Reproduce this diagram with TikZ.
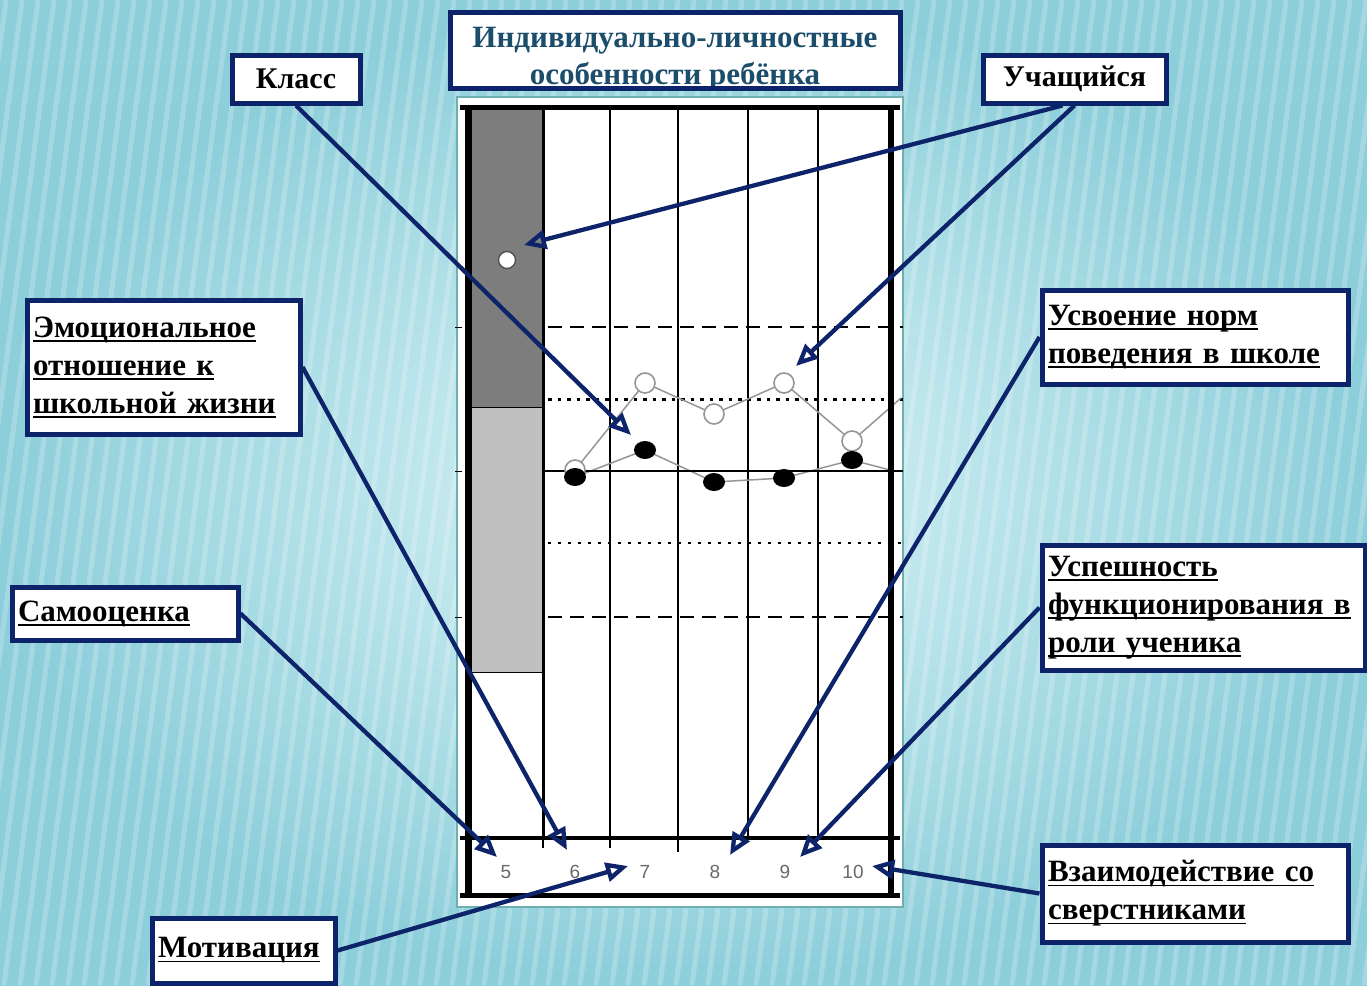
\documentclass[tikz,border=0pt]{standalone}
\usepackage{fontspec}
\setmainfont{Liberation Serif}
\newfontfamily\numfont{Liberation Sans}
\usetikzlibrary{arrows.meta}
\definecolor{navy}{RGB}{14,36,106}
\definecolor{titletext}{RGB}{28,78,108}
\definecolor{bgin}{RGB}{222,245,248}
\definecolor{bgout}{RGB}{140,206,218}
\definecolor{frameteal}{RGB}{110,175,175}
\definecolor{darkbar}{RGB}{125,125,125}
\definecolor{lightbar}{RGB}{192,192,192}
\definecolor{serie}{RGB}{150,150,150}
\definecolor{numgray}{RGB}{105,105,105}
\newcommand{\lblfont}{\fontsize{31}{38}\selectfont\bfseries}
\newsavebox\ulbox
\newcommand{\ul}[1]{\leavevmode\sbox\ulbox{#1}\rlap{\rule[-4.5pt]{\wd\ulbox}{1.8pt}}\usebox\ulbox}
\begin{document}
\begin{tikzpicture}[x=1pt,y=-1pt,
  lbox/.style={draw=navy, line width=5pt, fill=white, inner xsep=6pt, inner ysep=0pt,
    align=left, font=\lblfont, text=black},
  tbox/.style={draw=navy, line width=5pt, fill=white, inner sep=0pt,
    align=center, font=\fontsize{30}{38}\selectfont\bfseries, text=black},
  arr/.style={draw=navy, line width=4.3pt, -{Triangle[open,length=22pt,width=19pt]}},
  grid/.style={black, line width=1.5pt},
  opn/.style={fill=white, draw=serie, line width=1.6pt},
  fil/.style={fill=black},
  num/.style={font=\numfont\fontsize{19}{19}\selectfont, text=numgray}
]
\useasboundingbox (0,0) rectangle (1367,985);
% background
\shade[inner color=bgin, outer color=bgout] (0,0) rectangle (1367,985);
\foreach \s in {-300,-284,...,1400}{
  \draw[white, opacity=0.22, line width=5pt] (\s,985) -- (\s+130,0);
}
% chart frame
\draw[frameteal, line width=2pt, fill=white] (457,97) rectangle (903,907);
\fill[darkbar] (468,107) rectangle (543,407);
\fill[lightbar] (468,407) rectangle (543,672);
\draw[black, line width=1pt] (468,407) -- (543,407);
\draw[black, line width=1pt] (468,672) -- (543,672);
% verticals
\foreach \x in {610,678,748,818}{
  \draw[grid] (\x,107) -- (\x,838);
}
\draw[grid] (610,838) -- (610,848);
\draw[grid] (678,838) -- (678,852);
\draw[grid] (543,838) -- (543,848);
% horizontals
\draw[black, line width=1.6pt, dash pattern=on 14pt off 8pt] (548,327) -- (903,327);
\draw[black, line width=3pt, dash pattern=on 3.5pt off 6pt] (548,399) -- (903,399);
\draw[black, line width=1.6pt, dash pattern=on 3pt off 7pt] (548,543) -- (903,543);
\draw[black, line width=1.6pt, dash pattern=on 14pt off 8pt] (548,617) -- (903,617);
\foreach \y in {327,471,617}{ \draw[black, line width=1pt] (455,\y) -- (462,\y); }
% series lines
\draw[serie, line width=1.5pt] (575,470) -- (645,383) -- (714,414) -- (784,383) -- (852,441) -- (901,398);
\draw[serie, line width=1.5pt] (575,477) -- (645,450) -- (714,482) -- (784,478) -- (852,460) -- (890,470);
\draw[black, line width=2.6pt] (543,471) -- (903,471);
% points
\foreach \x/\y in {575/470, 645/383, 714/414, 784/383, 852/441}{
  \draw[opn] (\x,\y) circle[radius=10pt];
}
\foreach \x/\y in {575/477, 645/450, 714/482, 784/478, 852/460}{
  \fill[fil] (\x,\y) ellipse[x radius=11pt, y radius=9pt];
}
\draw[fill=white, draw=black!70, line width=1.3pt] (507,260) circle[radius=8.5pt];
% thick frame
\draw[black, line width=3pt] (543,107) -- (543,838);
\draw[black, line width=5pt] (460,107) -- (900,107);
\draw[black, line width=4pt] (460,838) -- (900,838);
\draw[black, line width=5pt] (460,895) -- (900,895);
\draw[black, line width=7pt] (468,105) -- (468,897);
\draw[black, line width=6pt] (891,105) -- (891,897);
% numbers
\node[num] (n5) at (506,872) {5};
\node[num] (n6) at (575,872) {6};
\node[num] (n7) at (645,872) {7};
\node[num] (n8) at (715,872) {8};
\node[num] (n9) at (785,872) {9};
\node[num] (n10) at (853,872) {10};
% title
\node[tbox, minimum width=450pt, minimum height=76pt] (title) at (675,50) {};
\begin{scope}
\clip (452.5,14.5) rectangle (897.5,85.5);
\node[text=titletext, font=\fontsize{31}{37}\selectfont\bfseries, inner sep=0pt, align=center] (titletxt) at (675,59) {Индивидуально-личностные\\особенности ребёнка};
\end{scope}
% label boxes
\node[tbox, minimum width=128pt, minimum height=48pt] (klass) at (296,79) {Класс};
\node[tbox, minimum width=183pt, minimum height=48pt] (ucha) at (1074.5,79) {Учащийся};
\node[lbox, text width=261pt, minimum height=134pt] (emo) at (163.5,367) {\ul{Эмоциональное}\\\ul{отношение к}\\\ul{школьной жизни}};
\node[lbox, text width=294pt, minimum height=94pt] (usv) at (1195,337) {\ul{Усвоение норм}\\\ul{поведения в школе}};
\node[lbox, text width=311pt, minimum height=125pt] (usp) at (1203.5,607.5) {\ul{Успешность}\\\ul{функционирования в}\\\ul{роли ученика}};
\node[lbox, text width=294pt, minimum height=97pt] (vz) at (1195,893.5) {\ul{Взаимодействие со}\\\ul{сверстниками}};
\node[lbox, text width=214pt, minimum height=53pt] (samo) at (125,613.5) {\ul{Самооценка}};
\node[lbox, text width=171pt, minimum height=65pt] (moti) at (243.5,950.5) {\ul{Мотивация}};
% arrow targets
\coordinate (tK) at (631,435);
\coordinate (tU1) at (524,245);
\coordinate (tU2) at (796,366);
\coordinate (tE) at (567,850);
\coordinate (tS) at (497,857);
\coordinate (tM) at (628,866);
\coordinate (tUs) at (730,855);
\coordinate (tUp) at (800,857);
\coordinate (tV) at (872,866);
% arrows
\draw[arr] (klass.south) -- (tK);
\draw[arr] ([xshift=-12pt]ucha.south) -- (tU1);
\draw[arr] (ucha.south) -- (tU2);
\draw[arr] (emo.east) -- (tE);
\draw[arr] (samo.east) -- (tS);
\draw[arr] (moti.east) -- (tM);
\draw[arr] (usv.west) -- (tUs);
\draw[arr] (usp.west) -- (tUp);
\draw[arr] (vz.west) -- (tV);
\end{tikzpicture}
\end{document}
